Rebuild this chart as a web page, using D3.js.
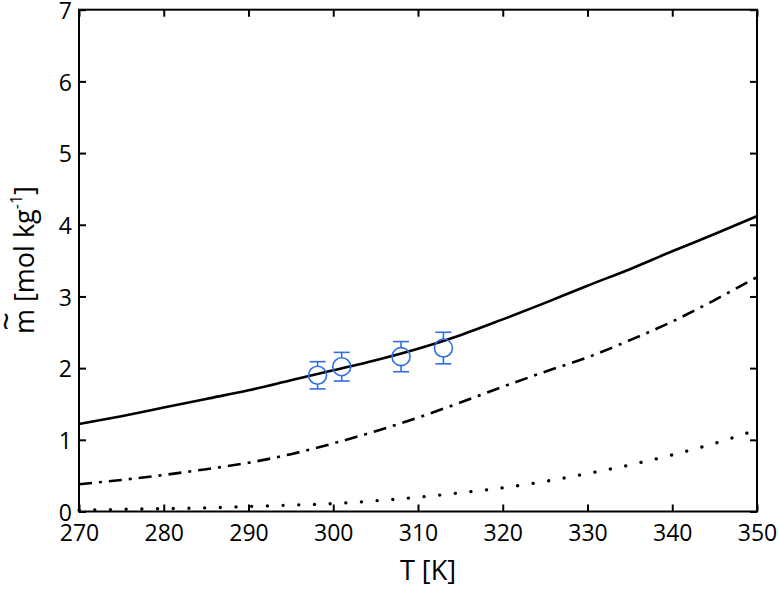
<!DOCTYPE html>
<html>
<head>
<meta charset="utf-8">
<script src="https://cdn.jsdelivr.net/npm/d3@7"></script>
<style>
  html, body { margin: 0; padding: 0; background: #fff; }
  svg { display: block; font-family: "Open Sans", sans-serif; }
</style>
</head>
<body>
<svg id="chart" width="779" height="589"></svg>
<script>
// ---- data ----
const temps = [270, 275, 280, 285, 290, 295, 300, 305, 310, 315, 320, 325, 330, 335, 340, 345, 350];
const solidVals   = [1.22, 1.33, 1.45, 1.57, 1.69, 1.83, 1.97, 2.11, 2.27, 2.46, 2.68, 2.91, 3.15, 3.38, 3.63, 3.87, 4.12];
const dashDotVals = [0.38, 0.44, 0.51, 0.59, 0.68, 0.80, 0.95, 1.12, 1.31, 1.52, 1.74, 1.95, 2.15, 2.39, 2.65, 2.95, 3.27];
const dottedVals  = [0.02, 0.03, 0.04, 0.05, 0.07, 0.09, 0.11, 0.15, 0.20, 0.26, 0.33, 0.42, 0.53, 0.65, 0.79, 0.95, 1.14];

const expT    = [298.15, 301, 308, 313];
const expM    = [1.90, 2.02, 2.16, 2.28];
const expErr  = [0.19, 0.20, 0.21, 0.22];

const xTicks = [270, 280, 290, 300, 310, 320, 330, 340, 350];
const yTicks = [0, 1, 2, 3, 4, 5, 6, 7];

// ---- layout ----
const W = 779, H = 589;
const m = { left: 79, right: 22, top: 9.7, bottom: 77.5 };
const svg = d3.select("#chart");

const x = d3.scaleLinear().domain([270, 350]).range([m.left, W - m.right]);
const y = d3.scaleLinear().domain([0, 7]).range([H - m.bottom, m.top]);

// ---- curves ----
const line = d3.line().x(d => x(d[0])).y(d => y(d[1])).curve(d3.curveMonotoneX);
const mk = vals => temps.map((t, i) => [t, vals[i]]);

svg.append("path").datum(mk(solidVals))
  .attr("d", line).attr("fill", "none").attr("stroke", "#000").attr("stroke-width", 2.6);
svg.append("path").datum(mk(dashDotVals))
  .attr("d", line).attr("fill", "none").attr("stroke", "#000").attr("stroke-width", 2.6)
  .attr("stroke-dasharray", "13 7 3 7");
svg.append("path").datum(mk(dottedVals))
  .attr("d", line).attr("fill", "none").attr("stroke", "#000").attr("stroke-width", 3.3)
  .attr("stroke-linecap", "round").attr("stroke-dasharray", "0.1 15.6");

// ---- experimental points ----
const blue = "#2f6fe3";
const pts = expT.map((t, i) => ({ t, v: expM[i], e: expErr[i] }));
const g = svg.append("g").attr("stroke", blue).attr("stroke-width", 1.6).attr("fill", "none");
pts.forEach(p => {
  const cx = x(p.t), cy = y(p.v), top = y(p.v + p.e), bot = y(p.v - p.e);
  g.append("line").attr("x1", cx).attr("x2", cx).attr("y1", top).attr("y2", cy - 9);
  g.append("line").attr("x1", cx).attr("x2", cx).attr("y1", cy + 9).attr("y2", bot);
  g.append("line").attr("x1", cx - 8).attr("x2", cx + 8).attr("y1", top).attr("y2", top);
  g.append("line").attr("x1", cx - 8).attr("x2", cx + 8).attr("y1", bot).attr("y2", bot);
  g.append("circle").attr("cx", cx).attr("cy", cy).attr("r", 9);
});

// ---- axes ----
const tickLen = 7;
function style(sel, labels) {
  sel.select(".domain").remove();
  sel.selectAll(".tick line").attr("stroke", "#000").attr("stroke-width", 2);
  sel.selectAll(".tick text").attr("fill", "#000").attr("font-size", 23)
     .attr("font-family", "'Open Sans', sans-serif");
  if (!labels) sel.selectAll(".tick text").remove();
}
svg.append("g").attr("transform", `translate(0,${H - m.bottom})`)
  .call(d3.axisBottom(x).tickValues(xTicks).tickFormat(d3.format("d")).tickSizeInner(-tickLen).tickSizeOuter(0).tickPadding(13))
  .call(s => style(s, true));
svg.append("g").attr("transform", `translate(0,${m.top})`)
  .call(d3.axisTop(x).tickValues(xTicks).tickSizeInner(-tickLen).tickSizeOuter(0))
  .call(s => style(s, false));
svg.append("g").attr("transform", `translate(${m.left},0)`)
  .call(d3.axisLeft(y).tickValues(yTicks).tickFormat(d3.format("d")).tickSizeInner(-tickLen).tickSizeOuter(0).tickPadding(7))
  .call(s => { style(s, true); s.selectAll(".tick text").attr("dy", "0.38em"); });
svg.append("g").attr("transform", `translate(${W - m.right},0)`)
  .call(d3.axisRight(y).tickValues(yTicks).tickSizeInner(-tickLen).tickSizeOuter(0))
  .call(s => style(s, false));

// frame
svg.append("rect")
  .attr("x", m.left).attr("y", m.top)
  .attr("width", W - m.left - m.right).attr("height", H - m.top - m.bottom)
  .attr("fill", "none").attr("stroke", "#000").attr("stroke-width", 2);

// ---- axis titles ----
svg.append("text").attr("x", 428).attr("y", 580)
  .attr("text-anchor", "middle").attr("font-size", 27).attr("fill", "#000")
  .text("T [K]");

const yl = svg.append("text")
  .attr("transform", `translate(34,${260}) rotate(-90)`)
  .attr("text-anchor", "middle").attr("font-size", 27).attr("fill", "#000");
yl.append("tspan").text("m");
yl.append("tspan").attr("font-size", 32).attr("dx", -21.6).attr("dy", -16).text("~");
yl.append("tspan").attr("dx", 3.2).attr("dy", 16).text(" [mol kg");
yl.append("tspan").attr("font-size", 16).attr("dy", -12).text("-1");
yl.append("tspan").attr("dy", 12).text("]");
</script>
</body>
</html>
